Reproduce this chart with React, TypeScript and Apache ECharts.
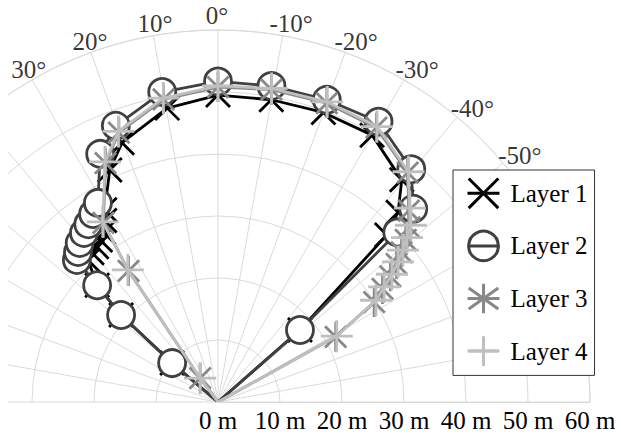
import React, { useEffect, useRef } from 'react';
import * as echarts from 'echarts';

const FONT = 'Liberation Serif';

// Angle tick labels (degrees) that are visible in the figure
const angleTicks = [30, 20, 10, 0, -10, -20, -30, -40, -50];
// Radius ticks (m)
const radiusTicks = [0, 10, 20, 30, 40, 50, 60];

const seriesNames = ['Layer 1', 'Layer 2', 'Layer 3', 'Layer 4'];

// Layer 1 (x marks)
const layer1Range = [0, 9.7, 21, 27.1, 31, 31.5, 31.8, 32.3, 33, 34.5, 36, 41.3, 44.6, 48.1, 49.5, 49.5, 49.7, 49.7, 46.5, 42.2, 38.3, 17.6, 0];
const layer1Angle = [50, 49.7, 48.1, 46, 42.5, 40.2, 38, 36, 34, 32, 30.5, 25, 20.3, 9.8, 0, -10, -20, -30, -39.6, -43.5, -45.3, -48.7, -48.7];

// Layer 2 (circles)
const layer2Range = [0, 9.7, 21, 27.1, 32.3, 33.1, 34, 34.8, 35.5, 36.4, 37.5, 44.3, 47.5, 50.8, 51.7, 51.7, 51.8, 52.1, 48.8, 44.3, 39.8, 17.6, 0];
const layer2Angle = [50, 49.7, 48.1, 46, 44.8, 43, 41, 38.4, 36.1, 33.6, 31.1, 25.4, 20.3, 10.2, 0, -9.6, -19.8, -29.8, -39.7, -45.3, -46.6, -48.7, -48.7];

// Layer 3 (asterisks)
const layer3Range = [0, 4.8, 25.6, 34.3, 42.6, 46.3, 49.6, 50.8, 51.1, 51.3, 51.1, 48, 43.6, 41.8, 40, 38.2, 36.4, 34.4, 32.2, 29.9, 21.7, 0];
const layer3Angle = [37, 36.9, 34.3, 32.6, 25.2, 20.2, 10.2, 0, -9.7, -20, -30, -39.6, -44.9, -47.6, -49.2, -50.8, -52.3, -53.9, -55.5, -57.4, -61, -61];

// Layer 4 (plus marks)
const layer4Range = [0, 4.8, 25.8, 34.5, 42.8, 46.5, 49.8, 51, 51.3, 51.5, 51.3, 48.2, 44, 42.2, 40.4, 38.6, 36.8, 34.8, 32.6, 30.3, 21.9, 0];
const layer4Angle = [37, 36.9, 34.3, 32.6, 25.2, 20.2, 10.2, 0, -9.7, -20, -30, -39.6, -44.7, -47.5, -49, -50.6, -52.1, -53.7, -55.3, -57.2, -61, -61];

const CROSS = 'path://M0,0L10,10M10,0L0,10';
const ASTER = 'path://M5,0L5,10M1.46,1.46L8.54,8.54M1.46,8.54L8.54,1.46';
const PLUS = 'path://M5,0L5,10M0,5L10,5';

const layerColors = ['#000000', '#404040', '#888888', '#bfbfbf'];
const layerSymbols = [CROSS, 'circle', ASTER, PLUS];
const layerSymbolSizes = [24, 27, 30, 32];
const layerFills = ['#000000', '#ffffff', '#888888', '#bfbfbf'];
const layerZ = [10, 20, 30, 40];

const ranges = [layer1Range, layer2Range, layer3Range, layer4Range];
const angles = [layer1Angle, layer2Angle, layer3Angle, layer4Angle];

export default function App() {
  const ref = useRef<HTMLDivElement>(null);
  useEffect(() => {
    if (!ref.current) return;
    const chart = echarts.init(ref.current, undefined, { renderer: 'svg' });

    const lineSeries = seriesNames.map((name, i) => ({
      name,
      type: 'line',
      coordinateSystem: 'polar',
      data: ranges[i].map((r, k) =>
        r === 0
          ? { value: [r, angles[i][k]], symbol: 'none' }
          : { value: [r, angles[i][k]] }
      ),
      symbol: layerSymbols[i],
      symbolSize: layerSymbolSizes[i],
      symbolKeepAspect: true,
      showSymbol: true,
      showAllSymbol: true,
      clip: false,
      lineStyle: { color: layerColors[i], width: 2.8 },
      itemStyle: { color: layerFills[i], borderColor: layerColors[i], borderWidth: 2.8 },
      emphasis: { disabled: true },
      z: layerZ[i],
    }));

    const textBase = { fontSize: 25, fontFamily: FONT, color: '#000' };

    const angleLabelSeries = {
      type: 'scatter',
      coordinateSystem: 'polar',
      silent: true,
      clip: false,
      symbol: 'circle',
      symbolSize: 1,
      itemStyle: { color: 'rgba(0,0,0,0)' },
      label: {
        show: true,
        position: 'inside',
        formatter: (p: any) => p.name,
        ...textBase,
      },
      data: angleTicks.map((a) => ({
        name: `${a}°`,
        value: [62.3, a],
        label: { offset: [a === 0 ? -1 : a > 0 ? 4 : 6, a === 0 ? 0 : 2] },
      })),
      z: 5,
    };

    chart.setOption({
      animation: false,
      backgroundColor: '#ffffff',
      textStyle: { fontFamily: FONT },
      polar: { center: [210, 402], radius: 372 },
      angleAxis: {
        type: 'value',
        min: -90,
        max: 90,
        interval: 10,
        startAngle: 0,
        endAngle: 180,
        clockwise: false,
        axisLine: { show: true, lineStyle: { color: '#dadada', width: 1 } },
        axisTick: { show: false },
        axisLabel: { show: false },
        splitLine: { show: true, lineStyle: { color: '#dadada', width: 1 } },
      },
      radiusAxis: {
        type: 'value',
        min: radiusTicks[0],
        max: radiusTicks[radiusTicks.length - 1],
        interval: 10,
        axisLine: { show: true, lineStyle: { color: '#dadada', width: 1 } },
        axisTick: { show: false },
        axisLabel: {
          show: true,
          formatter: '{value} m',
          ...textBase,
          margin: -6,
          verticalAlign: 'top',
          align: 'center',
        },
        splitLine: { show: true, lineStyle: { color: '#dadada', width: 1 } },
      },
      legend: {
        data: seriesNames.map((name, i) =>
          layerSymbols[i] === 'circle'
            ? { name, itemStyle: { color: 'rgba(255,255,255,0)' } }
            : { name }
        ),
        orient: 'vertical',
        left: 445,
        top: 170,
        padding: [7, 7, 8, 13],
        itemWidth: 32,
        itemHeight: 37,
        itemGap: 20,
        selectedMode: false,
        backgroundColor: '#ffffff',
        borderColor: '#333333',
        borderWidth: 1,
        borderRadius: 0,
        itemStyle: { borderWidth: 3 },
        lineStyle: { width: 3 },
        textStyle: { ...textBase, padding: [0, 0, 0, 6] },
        z: 100,
      },
      series: [...lineSeries, angleLabelSeries],
    });
    return () => chart.dispose();
  }, []);
  return (
    <div
      ref={ref}
      style={{ position: 'absolute', left: 8, top: 0, width: 613, height: 438 }}
    />
  );
}
